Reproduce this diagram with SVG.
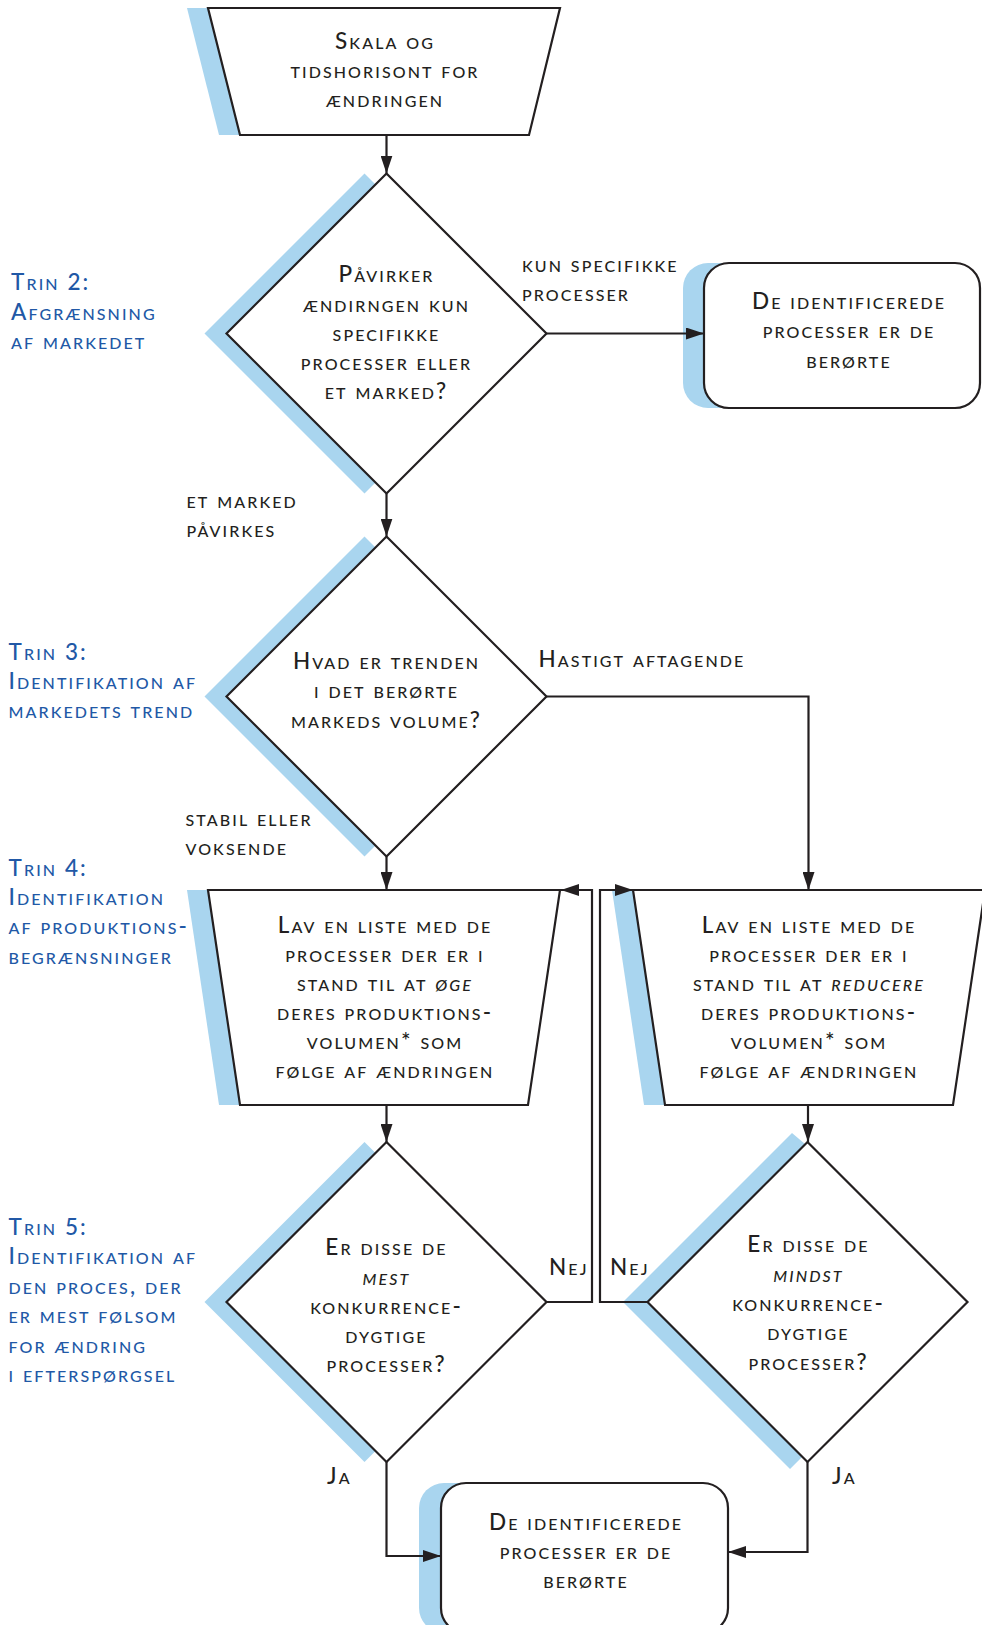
<svg xmlns="http://www.w3.org/2000/svg" width="982" height="1625" viewBox="0 0 982 1625">
  <style>
    .shadow { fill: #a9d5ef; stroke: none; }
    .shape { fill: #ffffff; stroke: #231f20; stroke-width: 2.2; stroke-linejoin: miter; }
    .conn { fill: none; stroke: #231f20; stroke-width: 2.2; }
    text { font-family: Lato, "Open Sans", "DejaVu Sans", sans-serif; font-size: 22.5px; font-weight: 500; font-variant: small-caps; letter-spacing: 2.1px; }
    .c { fill: #231f20; text-anchor: middle; }
    .l { fill: #231f20; text-anchor: start; }
    .step { fill: #2158a6; text-anchor: start; }
    .i { font-style: italic; }
  </style>
  <defs>
    <marker id="arrow" viewBox="0 0 18 12" refX="18" refY="6" markerWidth="18" markerHeight="12" markerUnits="userSpaceOnUse" orient="auto">
      <path d="M0,0 L18,6 L0,12 z" fill="#231f20"/>
    </marker>
  </defs>

  <!-- step labels on the left -->
  <g id="step-labels">
    <text class="step" x="11" y="290">Trin 2:</text>
    <text class="step" x="11" y="320">Afgrænsning</text>
    <text class="step" x="11" y="349">af markedet</text>

    <text class="step" x="8.5" y="660">Trin 3:</text>
    <text class="step" x="8.5" y="689">Identifikation af</text>
    <text class="step" x="8.5" y="718">markedets trend</text>

    <text class="step" x="8.5" y="876">Trin 4:</text>
    <text class="step" x="8.5" y="905">Identifikation</text>
    <text class="step" x="8.5" y="934">af produktions-</text>
    <text class="step" x="8.5" y="964">begrænsninger</text>

    <text class="step" x="8.5" y="1235">Trin 5:</text>
    <text class="step" x="8.5" y="1264">Identifikation af</text>
    <text class="step" x="8.5" y="1294">den proces, der</text>
    <text class="step" x="8.5" y="1323">er mest følsom</text>
    <text class="step" x="8.5" y="1353">for ændring</text>
    <text class="step" x="8.5" y="1382">i efterspørgsel</text>
  </g>

  <!-- start: scale and time horizon -->
  <g id="node-scale">
    <polygon class="shadow" points="187,8 539,8 508,135 219,135"/>
    <polygon class="shape" points="208,8 560,8 529,135 240,135"/>
    <text class="c" x="385" y="49">Skala og</text>
    <text class="c" x="385" y="78">tidshorisont for</text>
    <text class="c" x="385" y="107">ændringen</text>
  </g>

  <!-- decision: processes or market -->
  <g id="node-affects">
    <polygon class="shadow" points="364.5,173.5 204.5,333.5 364.5,493.5 524.5,333.5"/>
    <polygon class="shape" points="386.5,173.5 546.5,333.5 386.5,493.5 226.5,333.5"/>
    <text class="c" x="386.5" y="282">Påvirker</text>
    <text class="c" x="386.5" y="311.5">ændirngen kun</text>
    <text class="c" x="386.5" y="341">specifikke</text>
    <text class="c" x="386.5" y="370">processer eller</text>
    <text class="c" x="386.5" y="399">et marked?</text>
  </g>

  <!-- result: specific processes -->
  <g id="node-specific-result">
    <rect class="shadow" x="683" y="263" width="276" height="145" rx="25" ry="25"/>
    <rect class="shape" x="704" y="263" width="276" height="145" rx="25" ry="25"/>
    <text class="c" x="849" y="308.5">De identificerede</text>
    <text class="c" x="849" y="338">processer er de</text>
    <text class="c" x="849" y="367.5">berørte</text>
  </g>

  <!-- decision: market trend -->
  <g id="node-trend">
    <polygon class="shadow" points="364.5,536.5 204.5,696.5 364.5,856.5 524.5,696.5"/>
    <polygon class="shape" points="386.5,536.5 546.5,696.5 386.5,856.5 226.5,696.5"/>
    <text class="c" x="386.5" y="669">Hvad er trenden</text>
    <text class="c" x="386.5" y="698">i det berørte</text>
    <text class="c" x="386.5" y="728">markeds volume?</text>
  </g>

  <!-- list of processes able to increase -->
  <g id="node-increase">
    <polygon class="shadow" points="187,890 539,890 507,1105 219,1105"/>
    <polygon class="shape" points="208,890 560,890 528,1105 240,1105"/>
    <text class="c" x="385" y="933">Lav en liste med de</text>
    <text class="c" x="385" y="962">processer der er i</text>
    <text class="c" x="385" y="991">stand til at <tspan class="i">øge</tspan></text>
    <text class="c" x="385" y="1020">deres produktions-</text>
    <text class="c" x="385" y="1049">volumen* som</text>
    <text class="c" x="385" y="1078">følge af ændringen</text>
  </g>

  <!-- list of processes able to reduce -->
  <g id="node-reduce">
    <polygon class="shadow" points="612,890 964,890 932,1105 644,1105"/>
    <polygon class="shape" points="633,890 985,890 953,1105 665,1105"/>
    <text class="c" x="809" y="933">Lav en liste med de</text>
    <text class="c" x="809" y="962">processer der er i</text>
    <text class="c" x="809" y="991">stand til at <tspan class="i">reducere</tspan></text>
    <text class="c" x="809" y="1020">deres produktions-</text>
    <text class="c" x="809" y="1049">volumen* som</text>
    <text class="c" x="809" y="1078">følge af ændringen</text>
  </g>

  <!-- decision: most competitive -->
  <g id="node-most">
    <polygon class="shadow" points="364.5,1142 204.5,1302 364.5,1462 524.5,1302"/>
    <polygon class="shape" points="386.5,1142 546.5,1302 386.5,1462 226.5,1302"/>
    <text class="c" x="386.5" y="1255">Er disse de</text>
    <text class="c" x="386.5" y="1285"><tspan class="i">mest</tspan></text>
    <text class="c" x="386.5" y="1314">konkurrence-</text>
    <text class="c" x="386.5" y="1343">dygtige</text>
    <text class="c" x="386.5" y="1372">processer?</text>
  </g>

  <!-- decision: least competitive -->
  <g id="node-least">
    <polygon class="shadow" points="792,1133 623,1302 790,1469 803,1456 760,1302 805,1144"/>
    <polygon class="shape" points="807.5,1142 967.5,1302 807.5,1462 647.5,1302"/>
    <text class="c" x="808.5" y="1252">Er disse de</text>
    <text class="c" x="808.5" y="1281.5"><tspan class="i">mindst</tspan></text>
    <text class="c" x="808.5" y="1311">konkurrence-</text>
    <text class="c" x="808.5" y="1340">dygtige</text>
    <text class="c" x="808.5" y="1369.5">processer?</text>
  </g>

  <!-- result: affected processes -->
  <g id="node-final-result">
    <rect class="shadow" x="419" y="1483" width="287" height="150" rx="25" ry="25"/>
    <rect class="shape" x="441" y="1483" width="287" height="150" rx="25" ry="25"/>
    <text class="c" x="586" y="1530">De identificerede</text>
    <text class="c" x="586" y="1559">processer er de</text>
    <text class="c" x="586" y="1588">berørte</text>
  </g>

  <!-- connectors and their labels -->
  <g id="connectors">
    <path class="conn" d="M386.5,135 V173.5" marker-end="url(#arrow)"/>
    <path class="conn" d="M546.5,333.5 H704" marker-end="url(#arrow)"/>
    <path class="conn" d="M386.5,493.5 V536.5" marker-end="url(#arrow)"/>
    <path class="conn" d="M546.5,696.5 H808.5 V890" marker-end="url(#arrow)"/>
    <path class="conn" d="M386.5,856.5 V890" marker-end="url(#arrow)"/>
    <path class="conn" d="M386.5,1105 V1142" marker-end="url(#arrow)"/>
    <path class="conn" d="M808,1105 V1142" marker-end="url(#arrow)"/>
    <path class="conn" d="M546.5,1302 H592 V890 H561" marker-end="url(#arrow)"/>
    <path class="conn" d="M647.5,1302 H600 V890 H633" marker-end="url(#arrow)"/>
    <path class="conn" d="M386.5,1462 V1556 H441" marker-end="url(#arrow)"/>
    <path class="conn" d="M807.5,1462 V1552 H728" marker-end="url(#arrow)"/>

    <text class="l" x="522" y="272">kun specifikke</text>
    <text class="l" x="522" y="301">processer</text>
    <text class="l" x="186.5" y="508">et marked</text>
    <text class="l" x="186.5" y="537">påvirkes</text>
    <text class="l" x="538.5" y="667">Hastigt aftagende</text>
    <text class="l" x="185.5" y="826">stabil eller</text>
    <text class="l" x="185.5" y="855">voksende</text>
    <text class="l" x="549" y="1275">Nej</text>
    <text class="l" x="610" y="1275">Nej</text>
    <text class="l" x="327" y="1484">Ja</text>
    <text class="l" x="832" y="1484">Ja</text>
  </g>
</svg>
